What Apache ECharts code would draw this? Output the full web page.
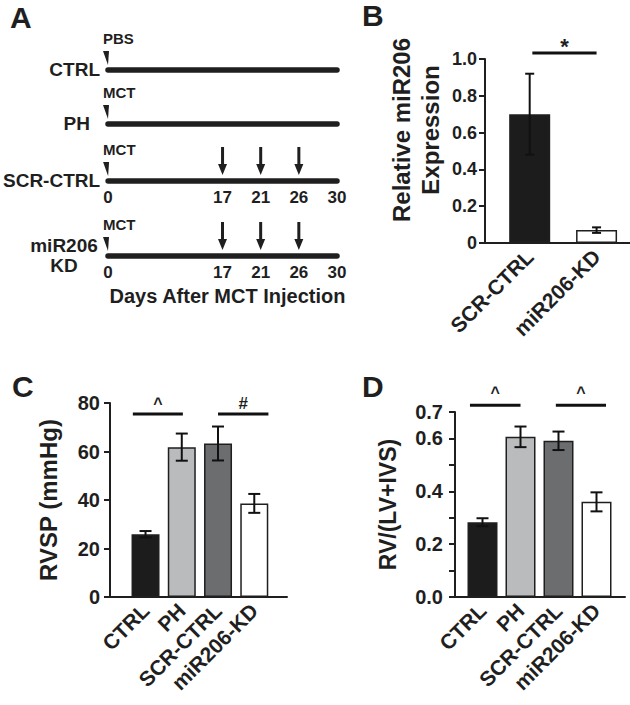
<!DOCTYPE html>
<html><head><meta charset="utf-8">
<script src="https://cdn.jsdelivr.net/npm/echarts@6/dist/echarts.min.js"></script>
<style>html,body{margin:0;padding:0;background:#fff}#c{width:630px;height:705px}</style>
</head><body><div id="c"></div>
<script>
// ---------- Panel A: timeline schematic ----------
const timelineDays = ['0', '', '', '17', '21', '26', '30'];
const timelineGroups = ['CTRL', 'PH', 'SCR-CTRL', 'miR206\nKD'];
const timelineTreatment = ['PBS', 'MCT', 'MCT', 'MCT'];
const injectionDays = [[], [], ['17', '21', '26'], ['17', '21', '26']];
const timelineAxisTitle = 'Days After MCT Injection';

// ---------- Panel B ----------
const bGroups = ['SCR-CTRL', 'miR206-KD'];
const bMean = [0.70, 0.07];
const bSem = [0.22, 0.015];
const bYName = 'Relative miR206\nExpression';
const bSig = [[0, 1, 1.033, '*']];

// ---------- Panel C ----------
const cGroups = ['CTRL', 'PH', 'SCR-CTRL', 'miR206-KD'];
const cMean = [25.9, 61.8, 63.3, 38.6];
const cSem = [1.3, 5.6, 7.0, 3.9];
const cYName = 'RVSP (mmHg)';
const cSig = [[0, 1, 75.5, '^'], [2, 3, 75.5, '#']];

// ---------- Panel D ----------
const dGroups = ['CTRL', 'PH', 'SCR-CTRL', 'miR206-KD'];
const dMean = [0.283, 0.606, 0.591, 0.360];
const dSem = [0.015, 0.039, 0.035, 0.036];
const dYName = 'RV/(LV+IVS)';
const dTickLabels = ['0.0', '0.2', '0.4', '0.6', '0.7'];
const dSig = [[0, 1, 0.726, '^'], [2, 3, 0.726, '^']];

const panelLetters = ['A', 'B', 'C', 'D'];

// ---------- styles / layout ----------
const FONT = '"Liberation Sans", Arial, Helvetica, sans-serif';
const INK = '#1f1f1f';
const barColors4 = ['#1c1c1c', '#b9bbbd', '#6c6d6f', '#ffffff'];
const barColors2 = ['#1c1c1c', '#ffffff'];

const rowY = [70, 124, 181, 256];
const rowLabelMargin = [8, 18, 8, 44];

const grids = [], xAxes = [], yAxes = [], series = [];

// Panel A rows
timelineGroups.forEach((g, i) => {
  const gi = grids.length;
  grids.push({left: 108, width: 229, top: rowY[i] - 2, height: 2});
  xAxes.push({
    gridIndex: gi, type: 'category', data: timelineDays, boundaryGap: false,
    axisLine: {lineStyle: {color: INK, width: 5.5}},
    axisTick: {show: false},
    axisLabel: {show: i >= 2, interval: 0, margin: 8, color: INK, fontFamily: FONT, fontWeight: 'bold', fontSize: 17},
    splitLine: {show: false},
    name: i === 3 ? timelineAxisTitle : '', nameLocation: 'middle', nameGap: 30,
    nameTextStyle: {color: INK, fontFamily: FONT, fontWeight: 'bold', fontSize: 20, padding: [0, 0, 0, 10]}
  });
  yAxes.push({
    gridIndex: gi, type: 'category', data: [g],
    axisLine: {show: false}, axisTick: {show: false}, splitLine: {show: false},
    axisLabel: {
      margin: rowLabelMargin[i], color: INK, fontFamily: FONT, fontWeight: 'bold', fontSize: 19,
      align: i === 3 ? 'center' : 'right', lineHeight: 20,
      padding: i === 3 ? [12, 0, 0, 0] : 0
    }
  });
  series.push({
    type: 'scatter', xAxisIndex: gi, yAxisIndex: gi, clip: false, silent: true,
    symbol: 'path://M0,0 L6,0 L5,14 Z', symbolSize: [6, 14], symbolOffset: [-2, -11],
    itemStyle: {color: INK, opacity: 1},
    data: [{value: [0, 0], name: timelineTreatment[i]}],
    label: {show: true, formatter: '{b}', position: [0, -5], align: 'left', verticalAlign: 'bottom',
      color: INK, fontFamily: FONT, fontWeight: 'bold', fontSize: 15}
  });
  if (injectionDays[i].length) {
    series.push({
      type: 'scatter', xAxisIndex: gi, yAxisIndex: gi, clip: false, silent: true,
      symbol: 'path://M3,0 L6,0 L6,17 L9,17 L4.5,28 L0,17 L3,17 Z', symbolSize: [9, 28], symbolOffset: [0, -19],
      itemStyle: {color: INK, opacity: 1},
      data: injectionDays[i].map(d => [timelineDays.indexOf(d), 0])
    });
  }
});

function barPanel(cfg) {
  const gi = grids.length;
  grids.push({left: cfg.barLeft, top: cfg.top, width: cfg.barWidthTotal, height: cfg.height});
  // frame grid: carries the full-length x axis line and the y-axis title
  const fTop = cfg.top + cfg.height - cfg.frameHeight;
  grids.push({left: cfg.axisX, top: fTop, width: cfg.lineEnd - cfg.axisX, height: cfg.frameHeight});
  xAxes.push({
    gridIndex: gi, type: 'category', data: cfg.groups,
    axisLine: {show: false}, axisTick: {show: false},
    axisLabel: {interval: 0, rotate: 45, margin: 10, color: INK, fontFamily: FONT, fontWeight: 'bold', fontSize: 21}
  });
  xAxes.push({
    gridIndex: gi + 1, type: 'value', min: 0, max: 1,
    axisLine: {show: true, lineStyle: {color: INK, width: 2}},
    axisTick: {show: false}, axisLabel: {show: false}, splitLine: {show: false}
  });
  yAxes.push({
    gridIndex: gi, type: 'value', min: cfg.min, max: cfg.max, interval: cfg.interval,
    offset: cfg.barLeft - cfg.axisX,
    axisLine: {show: true, lineStyle: {color: INK, width: 2}},
    axisTick: {show: true, length: 6, lineStyle: {color: INK, width: 2}},
    splitLine: {show: false},
    axisLabel: {margin: cfg.labelMargin, color: INK, fontFamily: FONT, fontWeight: 'bold', fontSize: cfg.tickFont,
      formatter: cfg.fmt, showMaxLabel: true, showMinLabel: true}
  });
  yAxes.push({
    gridIndex: gi + 1, type: 'value', min: 0, max: 1, show: true,
    axisLine: {show: false}, axisTick: {show: false}, axisLabel: {show: false}, splitLine: {show: false},
    name: cfg.yName, nameLocation: 'middle', nameGap: cfg.nameGap,
    nameTextStyle: {color: INK, fontFamily: FONT, fontWeight: 'bold', fontSize: cfg.nameFont, lineHeight: cfg.nameLH}
  });
  series.push({
    type: 'bar', xAxisIndex: gi, yAxisIndex: gi, barWidth: cfg.barWidth, silent: true,
    data: cfg.mean.map((v, i) => ({value: v, itemStyle: {color: cfg.colors[i]}})),
    itemStyle: {borderColor: INK, borderWidth: 1.5}, z: 2
  });
  const hw = cfg.capHalf;
  series.push({
    type: 'custom', xAxisIndex: gi, yAxisIndex: gi, silent: true, z: 3,
    data: cfg.mean.map((m, i) => [i, m - cfg.sem[i], m + cfg.sem[i]]),
    encode: {x: 0, y: [1, 2]},
    renderItem(params, api) {
      const x = api.value(0);
      const lo = api.coord([x, api.value(1)]);
      const hi = api.coord([x, api.value(2)]);
      const st = {stroke: '#111', lineWidth: 2};
      return {type: 'group', children: [
        {type: 'line', shape: {x1: lo[0], y1: lo[1], x2: hi[0], y2: hi[1]}, style: st},
        {type: 'line', shape: {x1: lo[0] - hw, y1: lo[1], x2: lo[0] + hw, y2: lo[1]}, style: st},
        {type: 'line', shape: {x1: hi[0] - hw, y1: hi[1], x2: hi[0] + hw, y2: hi[1]}, style: st}
      ]};
    }
  });
  series.push({
    type: 'custom', xAxisIndex: gi, yAxisIndex: gi, silent: true, z: 4, clip: false,
    data: cfg.sig.map((s, k) => [s[0], s[1], s[2], k]),
    encode: {x: [0, 1], y: 2},
    renderItem(params, api) {
      const k = api.value(3);
      const p1 = api.coord([api.value(0), api.value(2)]);
      const p2 = api.coord([api.value(1), api.value(2)]);
      const band = api.size([1, 0])[0];
      const x1 = p1[0] + cfg.sigPad[k][0] * band;
      const x2 = p2[0] + cfg.sigPad[k][1] * band;
      const mark = cfg.sig[k][3];
      return {type: 'group', children: [
        {type: 'line', shape: {x1: x1, y1: p1[1], x2: x2, y2: p1[1]}, style: {stroke: '#111', lineWidth: 3}},
        {type: 'text', style: {text: mark, x: (x1 + x2) / 2, y: p1[1] + cfg.markDy[k], align: 'center', verticalAlign: 'bottom',
          fill: INK, fontFamily: FONT, fontWeight: 'bold', fontSize: cfg.markFont[k]}}
      ]};
    }
  });
}

barPanel({
  groups: bGroups, mean: bMean, sem: bSem, colors: barColors2, yName: bYName,
  axisX: 485, lineEnd: 630, barLeft: 496.25, barWidthTotal: 137, top: 59, height: 184, frameHeight: 226,
  min: 0, max: 1, interval: 0.2, fmt: v => v === 0 ? '0' : v.toFixed(1),
  labelMargin: 8, tickFont: 18, nameGap: 40, nameFont: 24, nameLH: 29,
  barWidth: 41, capHalf: 4.5, sig: bSig, sigPad: [[0.04, 0]], markDy: [5], markFont: [22]
});
barPanel({
  groups: cGroups, mean: cMean, sem: cSem, colors: barColors4, yName: cYName,
  axisX: 110, lineEnd: 287, barLeft: 127.4, barWidthTotal: 145, top: 403, height: 194, frameHeight: 194,
  min: 0, max: 80, interval: 20, fmt: v => String(v),
  labelMargin: 10, tickFont: 20, nameGap: 48, nameFont: 24, nameLH: 28,
  barWidth: 28, capHalf: 6, sig: cSig, sigPad: [[-0.35, 0.03], [0, 0.39]], markDy: [-2, -2], markFont: [16, 17]
});
barPanel({
  groups: dGroups, mean: dMean, sem: dSem, colors: barColors4, yName: dYName,
  axisX: 455, lineEnd: 625, barLeft: 463.5, barWidthTotal: 152, top: 412, height: 185, frameHeight: 185,
  min: 0, max: 0.7, interval: 0.1,
  fmt: v => { const s = v.toFixed(1); return dTickLabels.indexOf(s) >= 0 ? s : ''; },
  labelMargin: 12, tickFont: 20, nameGap: 53, nameFont: 23, nameLH: 28,
  barWidth: 30, capHalf: 6, sig: dSig, sigPad: [[-0.33, 0], [-0.07, 0.25]], markDy: [-5, -5], markFont: [16, 16]
});

const letterPos = [[10, 2], [362, 0], [12, 371], [362, 371]];
const titles = panelLetters.map((t, i) => ({
  text: t, left: letterPos[i][0], top: letterPos[i][1], padding: 0,
  textStyle: {color: INK, fontFamily: FONT, fontWeight: 'bold', fontSize: 30}
}));

const chart = echarts.init(document.getElementById('c'), null, {renderer: 'svg'});
chart.setOption({
  animation: false, backgroundColor: '#fff',
  title: titles, grid: grids, xAxis: xAxes, yAxis: yAxes, series: series
});
</script></body></html>
